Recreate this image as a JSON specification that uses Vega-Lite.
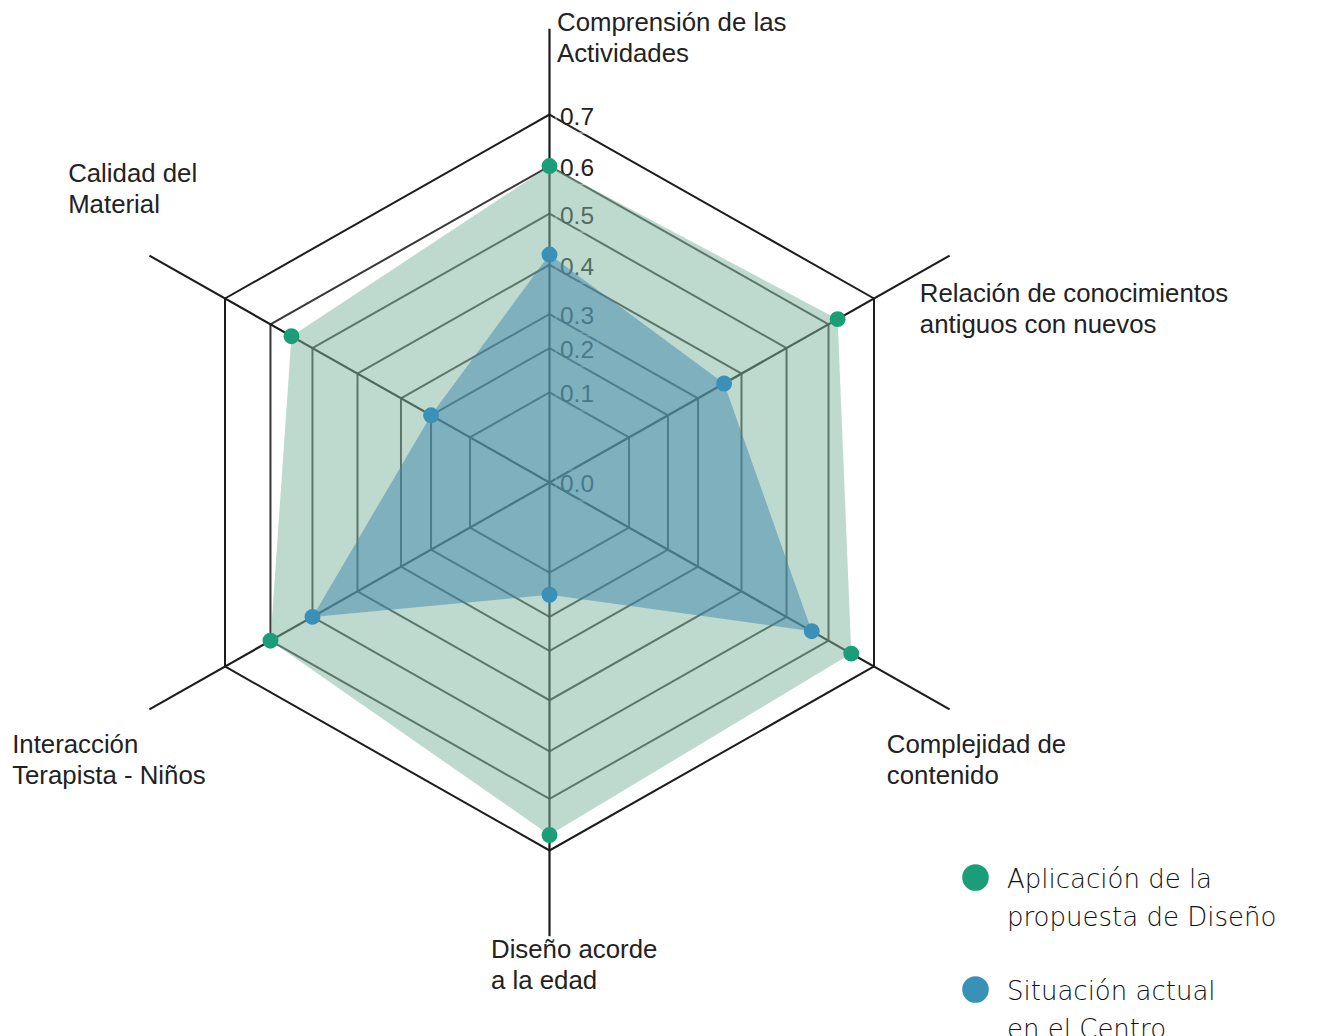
{
  "$schema": "https://vega.github.io/schema/vega-lite/v6.json",
  "width": 1336,
  "height": 1036,
  "autosize": {"type": "none"},
  "padding": 0,
  "background": "#ffffff",
  "config": {"view": {"stroke": null}},
  "datasets": {
    "ejes": [
      {"k": 0, "eje": "Comprensión de las\nActividades", "niveles": [0.1, 0.2, 0.3, 0.4, 0.5, 0.6, 0.7]},
      {"k": 1, "eje": "Relación de conocimientos\nantiguos con nuevos", "niveles": [0.1, 0.2, 0.3, 0.4, 0.5, 0.6, 0.7]},
      {"k": 2, "eje": "Complejidad de\ncontenido", "niveles": [0.1, 0.2, 0.3, 0.4, 0.5, 0.6, 0.7]},
      {"k": 3, "eje": "Diseño acorde\na la edad", "niveles": [0.1, 0.2, 0.3, 0.4, 0.5, 0.6, 0.7]},
      {"k": 4, "eje": "Interacción\nTerapista - Niños", "niveles": [0.1, 0.2, 0.3, 0.4, 0.5, 0.6, 0.7]},
      {"k": 5, "eje": "Calidad del\nMaterial", "niveles": [0.1, 0.2, 0.3, 0.4, 0.5, 0.6, 0.7]}
    ],
    "valores": [
      {"k": 0, "serie": "Aplicación de la propuesta de Diseño", "valor": 0.6},
      {"k": 1, "serie": "Aplicación de la propuesta de Diseño", "valor": 0.62},
      {"k": 2, "serie": "Aplicación de la propuesta de Diseño", "valor": 0.65},
      {"k": 3, "serie": "Aplicación de la propuesta de Diseño", "valor": 0.67},
      {"k": 4, "serie": "Aplicación de la propuesta de Diseño", "valor": 0.6},
      {"k": 5, "serie": "Aplicación de la propuesta de Diseño", "valor": 0.55},
      {"k": 0, "serie": "Situación actual en el Centro", "valor": 0.42},
      {"k": 1, "serie": "Situación actual en el Centro", "valor": 0.36},
      {"k": 2, "serie": "Situación actual en el Centro", "valor": 0.56},
      {"k": 3, "serie": "Situación actual en el Centro", "valor": 0.15},
      {"k": 4, "serie": "Situación actual en el Centro", "valor": 0.5},
      {"k": 5, "serie": "Situación actual en el Centro", "valor": 0.2}
    ],
    "ticks": [
      {"nivel": 0.0}, {"nivel": 0.1}, {"nivel": 0.2}, {"nivel": 0.3},
      {"nivel": 0.4}, {"nivel": 0.5}, {"nivel": 0.6}, {"nivel": 0.7}
    ]
  },
  "layer": [
    {
      "data": {"name": "ejes"},
      "transform": [
        {"flatten": ["niveles"], "as": ["nivel"]},
        {"calculate": "datum.k*PI/3", "as": "t"},
        {"calculate": "datum.nivel<=0.1 ? datum.nivel*918 : datum.nivel<=0.2 ? 91.8+(datum.nivel-0.1)*450 : datum.nivel<=0.3 ? 136.8+(datum.nivel-0.2)*347 : datum.nivel<=0.4 ? 171.5+(datum.nivel-0.3)*502 : datum.nivel<=0.5 ? 221.7+(datum.nivel-0.4)*520 : datum.nivel<=0.6 ? 273.7+(datum.nivel-0.5)*485 : 322.2+(datum.nivel-0.6)*525", "as": "r"},
        {"calculate": "datum.r*sin(datum.t)", "as": "px"},
        {"calculate": "datum.r*cos(datum.t)", "as": "py"},
        {"calculate": "datum.nivel > 0.65 ? 'ext' : 'int'", "as": "anillo"}
      ],
      "mark": {"type": "line", "interpolate": "linear-closed", "strokeWidth": 2},
      "encoding": {
        "x": {"field": "px", "type": "quantitative", "scale": {"domain": [-549.5, 786.5], "nice": false, "zero": false}, "axis": null},
        "y": {"field": "py", "type": "quantitative", "scale": {"domain": [-563.6, 491.3], "nice": false, "zero": false}, "axis": null},
        "detail": {"field": "nivel", "type": "nominal"},
        "order": {"field": "k", "type": "quantitative"},
        "stroke": {"field": "anillo", "type": "nominal", "scale": {"domain": ["ext", "int"], "range": ["#1c1c1c", "#383838"]}, "legend": null}
      }
    },
    {
      "data": {"name": "ejes"},
      "transform": [
        {"calculate": "datum.k*PI/3", "as": "t"},
        {"calculate": "462*sin(datum.t)", "as": "ex"},
        {"calculate": "462*cos(datum.t)", "as": "ey"},
        {"calculate": "0", "as": "cx"},
        {"calculate": "0", "as": "cy"}
      ],
      "mark": {"type": "rule", "color": "#1c1c1c", "strokeWidth": 2.2},
      "encoding": {
        "x": {"field": "cx", "type": "quantitative", "scale": {"domain": [-549.5, 786.5], "nice": false, "zero": false}, "axis": null},
        "y": {"field": "cy", "type": "quantitative", "scale": {"domain": [-563.6, 491.3], "nice": false, "zero": false}, "axis": null},
        "x2": {"field": "ex"},
        "y2": {"field": "ey"}
      }
    },
    {
      "data": {"name": "ticks"},
      "transform": [
        {"calculate": "datum.nivel<=0.1 ? datum.nivel*918 : datum.nivel<=0.2 ? 91.8+(datum.nivel-0.1)*450 : datum.nivel<=0.3 ? 136.8+(datum.nivel-0.2)*347 : datum.nivel<=0.4 ? 171.5+(datum.nivel-0.3)*502 : datum.nivel<=0.5 ? 221.7+(datum.nivel-0.4)*520 : datum.nivel<=0.6 ? 273.7+(datum.nivel-0.5)*485 : 322.2+(datum.nivel-0.6)*525", "as": "py"},
        {"calculate": "0", "as": "px"}
      ],
      "mark": {"type": "point", "shape": "M-1,-0.738H1V0.738H-1Z", "size": 1764, "filled": true, "fill": "#ffffff", "fillOpacity": 0.06, "stroke": "#ffffff", "strokeOpacity": 0.55, "strokeWidth": 1.3, "xOffset": 27.5, "yOffset": 3},
      "encoding": {
        "x": {"field": "px", "type": "quantitative", "scale": {"domain": [-549.5, 786.5], "nice": false, "zero": false}, "axis": null},
        "y": {"field": "py", "type": "quantitative", "scale": {"domain": [-563.6, 491.3], "nice": false, "zero": false}, "axis": null}
      }
    },
    {
      "data": {"name": "ticks"},
      "transform": [
        {"calculate": "datum.nivel<=0.1 ? datum.nivel*918 : datum.nivel<=0.2 ? 91.8+(datum.nivel-0.1)*450 : datum.nivel<=0.3 ? 136.8+(datum.nivel-0.2)*347 : datum.nivel<=0.4 ? 171.5+(datum.nivel-0.3)*502 : datum.nivel<=0.5 ? 221.7+(datum.nivel-0.4)*520 : datum.nivel<=0.6 ? 273.7+(datum.nivel-0.5)*485 : 322.2+(datum.nivel-0.6)*525", "as": "py"},
        {"calculate": "0", "as": "px"}
      ],
      "mark": {"type": "text", "align": "center", "baseline": "middle", "font": "Liberation Sans", "fontSize": 24.5, "color": "#222222", "xOffset": 27.5, "yOffset": 3},
      "encoding": {
        "x": {"field": "px", "type": "quantitative", "scale": {"domain": [-549.5, 786.5], "nice": false, "zero": false}, "axis": null},
        "y": {"field": "py", "type": "quantitative", "scale": {"domain": [-563.6, 491.3], "nice": false, "zero": false}, "axis": null},
        "text": {"field": "nivel", "type": "quantitative", "format": ".1f"}
      }
    },
    {
      "data": {"name": "valores"},
      "transform": [
        {"filter": "datum.serie == 'Aplicación de la propuesta de Diseño'"},
        {"calculate": "datum.k*PI/3", "as": "t"},
        {"calculate": "datum.valor<=0.1 ? datum.valor*918 : datum.valor<=0.2 ? 91.8+(datum.valor-0.1)*450 : datum.valor<=0.3 ? 136.8+(datum.valor-0.2)*347 : datum.valor<=0.4 ? 171.5+(datum.valor-0.3)*502 : datum.valor<=0.5 ? 221.7+(datum.valor-0.4)*520 : datum.valor<=0.6 ? 273.7+(datum.valor-0.5)*485 : 322.2+(datum.valor-0.6)*525", "as": "r"},
        {"calculate": "datum.r*sin(datum.t)", "as": "px"},
        {"calculate": "datum.r*cos(datum.t)", "as": "py"}
      ],
      "mark": {"type": "line", "interpolate": "linear-closed", "fill": "#7db59f", "fillOpacity": 0.5, "strokeWidth": 0, "strokeOpacity": 0},
      "encoding": {
        "x": {"field": "px", "type": "quantitative", "scale": {"domain": [-549.5, 786.5], "nice": false, "zero": false}, "axis": null},
        "y": {"field": "py", "type": "quantitative", "scale": {"domain": [-563.6, 491.3], "nice": false, "zero": false}, "axis": null},
        "order": {"field": "k", "type": "quantitative"}
      }
    },
    {
      "data": {"name": "valores"},
      "transform": [
        {"filter": "datum.serie == 'Situación actual en el Centro'"},
        {"calculate": "datum.k*PI/3", "as": "t"},
        {"calculate": "datum.valor<=0.1 ? datum.valor*918 : datum.valor<=0.2 ? 91.8+(datum.valor-0.1)*450 : datum.valor<=0.3 ? 136.8+(datum.valor-0.2)*347 : datum.valor<=0.4 ? 171.5+(datum.valor-0.3)*502 : datum.valor<=0.5 ? 221.7+(datum.valor-0.4)*520 : datum.valor<=0.6 ? 273.7+(datum.valor-0.5)*485 : 322.2+(datum.valor-0.6)*525", "as": "r"},
        {"calculate": "datum.r*sin(datum.t)", "as": "px"},
        {"calculate": "datum.r*cos(datum.t)", "as": "py"}
      ],
      "mark": {"type": "line", "interpolate": "linear-closed", "fill": "#4086ad", "fillOpacity": 0.5, "strokeWidth": 0, "strokeOpacity": 0},
      "encoding": {
        "x": {"field": "px", "type": "quantitative", "scale": {"domain": [-549.5, 786.5], "nice": false, "zero": false}, "axis": null},
        "y": {"field": "py", "type": "quantitative", "scale": {"domain": [-563.6, 491.3], "nice": false, "zero": false}, "axis": null},
        "order": {"field": "k", "type": "quantitative"}
      }
    },
    {
      "data": {"name": "valores"},
      "transform": [
        {"calculate": "datum.k*PI/3", "as": "t"},
        {"calculate": "datum.valor<=0.1 ? datum.valor*918 : datum.valor<=0.2 ? 91.8+(datum.valor-0.1)*450 : datum.valor<=0.3 ? 136.8+(datum.valor-0.2)*347 : datum.valor<=0.4 ? 171.5+(datum.valor-0.3)*502 : datum.valor<=0.5 ? 221.7+(datum.valor-0.4)*520 : datum.valor<=0.6 ? 273.7+(datum.valor-0.5)*485 : 322.2+(datum.valor-0.6)*525", "as": "r"},
        {"calculate": "datum.r*sin(datum.t)", "as": "px"},
        {"calculate": "datum.r*cos(datum.t)", "as": "py"}
      ],
      "mark": {"type": "circle", "size": 254, "opacity": 1},
      "encoding": {
        "x": {"field": "px", "type": "quantitative", "scale": {"domain": [-549.5, 786.5], "nice": false, "zero": false}, "axis": null},
        "y": {"field": "py", "type": "quantitative", "scale": {"domain": [-563.6, 491.3], "nice": false, "zero": false}, "axis": null},
        "color": {
          "field": "serie",
          "type": "nominal",
          "scale": {"domain": ["Aplicación de la propuesta de Diseño", "Situación actual en el Centro"], "range": ["#1b9e77", "#3a91b7"]},
          "legend": {
            "orient": "none",
            "legendX": 962,
            "legendY": 864,
            "title": null,
            "padding": 0,
            "symbolType": "circle",
            "symbolSize": 707,
            "symbolStrokeWidth": 0,
            "symbolOpacity": 1,
            "labelFont": "DejaVu Sans",
            "labelFontSize": 26,
            "labelFontWeight": 200,
            "labelColor": "#111111",
            "labelOffset": 18,
            "labelLimit": 500,
            "rowPadding": 45,
            "labelExpr": "datum.label == 'Aplicación de la propuesta de Diseño' ? ['Aplicación de la', 'propuesta de Diseño'] : ['Situación actual', 'en el Centro']",
            "encode": {"labels": {"update": {"lineHeight": {"value": 38}, "baseline": {"value": "alphabetic"}, "dy": {"value": 10}}}}
          }
        }
      }
    },
    {
      "data": {"name": "ejes"},
      "transform": [
        {"filter": "datum.k == 0"},
        {"calculate": "460*sin(datum.k*PI/3)", "as": "ex"},
        {"calculate": "460*cos(datum.k*PI/3)", "as": "ey"}
      ],
      "mark": {"type": "text", "align": "left", "baseline": "alphabetic", "lineBreak": "\n", "lineHeight": 31, "font": "Liberation Sans", "fontSize": 25.8, "color": "#222222", "dx": 7.5, "dy": 0.2},
      "encoding": {
        "x": {"field": "ex", "type": "quantitative", "scale": {"domain": [-549.5, 786.5], "nice": false, "zero": false}, "axis": null},
        "y": {"field": "ey", "type": "quantitative", "scale": {"domain": [-563.6, 491.3], "nice": false, "zero": false}, "axis": null},
        "text": {"field": "eje", "type": "nominal"}
      }
    },
    {
      "data": {"name": "ejes"},
      "transform": [
        {"filter": "datum.k == 1"},
        {"calculate": "460*sin(datum.k*PI/3)", "as": "ex"},
        {"calculate": "460*cos(datum.k*PI/3)", "as": "ey"}
      ],
      "mark": {"type": "text", "align": "left", "baseline": "alphabetic", "lineBreak": "\n", "lineHeight": 31, "font": "Liberation Sans", "fontSize": 25.8, "color": "#222222", "dx": -28, "dy": 45.4},
      "encoding": {
        "x": {"field": "ex", "type": "quantitative", "scale": {"domain": [-549.5, 786.5], "nice": false, "zero": false}, "axis": null},
        "y": {"field": "ey", "type": "quantitative", "scale": {"domain": [-563.6, 491.3], "nice": false, "zero": false}, "axis": null},
        "text": {"field": "eje", "type": "nominal"}
      }
    },
    {
      "data": {"name": "ejes"},
      "transform": [
        {"filter": "datum.k == 2"},
        {"calculate": "460*sin(datum.k*PI/3)", "as": "ex"},
        {"calculate": "460*cos(datum.k*PI/3)", "as": "ey"}
      ],
      "mark": {"type": "text", "align": "left", "baseline": "alphabetic", "lineBreak": "\n", "lineHeight": 31, "font": "Liberation Sans", "fontSize": 25.8, "color": "#222222", "dx": -61, "dy": 44.6},
      "encoding": {
        "x": {"field": "ex", "type": "quantitative", "scale": {"domain": [-549.5, 786.5], "nice": false, "zero": false}, "axis": null},
        "y": {"field": "ey", "type": "quantitative", "scale": {"domain": [-563.6, 491.3], "nice": false, "zero": false}, "axis": null},
        "text": {"field": "eje", "type": "nominal"}
      }
    },
    {
      "data": {"name": "ejes"},
      "transform": [
        {"filter": "datum.k == 3"},
        {"calculate": "460*sin(datum.k*PI/3)", "as": "ex"},
        {"calculate": "460*cos(datum.k*PI/3)", "as": "ey"}
      ],
      "mark": {"type": "text", "align": "left", "baseline": "alphabetic", "lineBreak": "\n", "lineHeight": 31, "font": "Liberation Sans", "fontSize": 25.8, "color": "#222222", "dx": -58.5, "dy": 23.8},
      "encoding": {
        "x": {"field": "ex", "type": "quantitative", "scale": {"domain": [-549.5, 786.5], "nice": false, "zero": false}, "axis": null},
        "y": {"field": "ey", "type": "quantitative", "scale": {"domain": [-563.6, 491.3], "nice": false, "zero": false}, "axis": null},
        "text": {"field": "eje", "type": "nominal"}
      }
    },
    {
      "data": {"name": "ejes"},
      "transform": [
        {"filter": "datum.k == 4"},
        {"calculate": "460*sin(datum.k*PI/3)", "as": "ex"},
        {"calculate": "460*cos(datum.k*PI/3)", "as": "ey"}
      ],
      "mark": {"type": "text", "align": "left", "baseline": "alphabetic", "lineBreak": "\n", "lineHeight": 31, "font": "Liberation Sans", "fontSize": 25.8, "color": "#222222", "dx": -139, "dy": 44.6},
      "encoding": {
        "x": {"field": "ex", "type": "quantitative", "scale": {"domain": [-549.5, 786.5], "nice": false, "zero": false}, "axis": null},
        "y": {"field": "ey", "type": "quantitative", "scale": {"domain": [-563.6, 491.3], "nice": false, "zero": false}, "axis": null},
        "text": {"field": "eje", "type": "nominal"}
      }
    },
    {
      "data": {"name": "ejes"},
      "transform": [
        {"filter": "datum.k == 5"},
        {"calculate": "460*sin(datum.k*PI/3)", "as": "ex"},
        {"calculate": "460*cos(datum.k*PI/3)", "as": "ey"}
      ],
      "mark": {"type": "text", "align": "left", "baseline": "alphabetic", "lineBreak": "\n", "lineHeight": 31, "font": "Liberation Sans", "fontSize": 25.8, "color": "#222222", "dx": -83, "dy": -74.6},
      "encoding": {
        "x": {"field": "ex", "type": "quantitative", "scale": {"domain": [-549.5, 786.5], "nice": false, "zero": false}, "axis": null},
        "y": {"field": "ey", "type": "quantitative", "scale": {"domain": [-563.6, 491.3], "nice": false, "zero": false}, "axis": null},
        "text": {"field": "eje", "type": "nominal"}
      }
    }
  ]
}
